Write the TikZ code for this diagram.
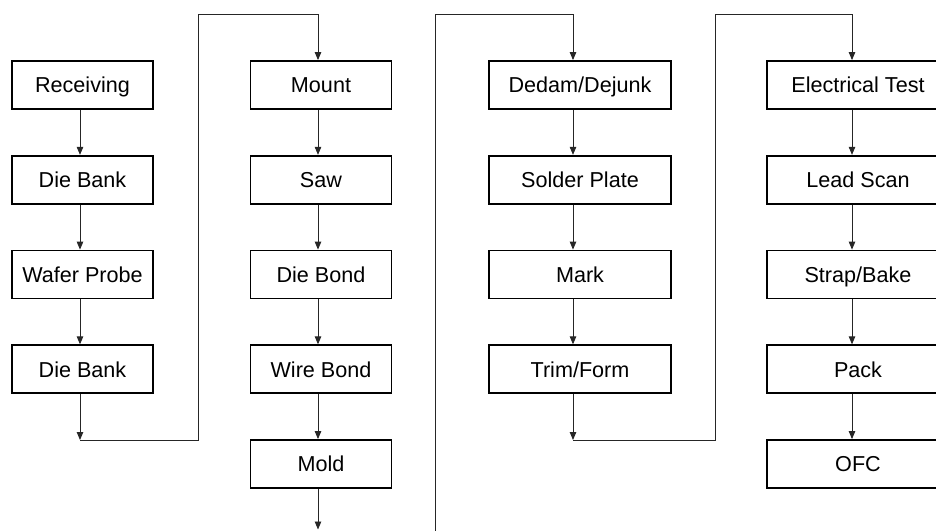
\documentclass[tikz,border=0pt]{standalone}
\usepackage{fontspec}
\setmainfont{Liberation Sans}
\usetikzlibrary{arrows.meta}
\begin{document}
\begin{tikzpicture}[x=1pt,y=-1pt,
  stage/.style={draw, line width=1.8pt, minimum height=48pt, inner sep=0pt,
                text height=15.5pt, text depth=0pt,
                font=\fontsize{21.6}{24}\selectfont},
  narrow/.style={stage, minimum width=141pt},
  wide/.style={stage, minimum width=182pt},
  flow/.style={line width=0.9pt, black!85},
  arr/.style={flow, -{Triangle[length=8pt,width=6.5pt]}}]
\useasboundingbox (0,0) rectangle (936,530);
\clip (0,0) rectangle (936,530);

% process stages, column by column
\node[narrow] (a1) at (82.5,85)     {Receiving};
\node[narrow] (a2) at (82.5,179.75) {Die Bank};
\node[narrow] (a3) at (82.5,274.5)  {Wafer Probe};
\node[narrow] (a4) at (82.5,369.25) {Die Bank};

\node[narrow] (b1) at (321,85)     {Mount};
\node[narrow] (b2) at (321,179.75) {Saw};
\node[narrow] (b3) at (321,274.5)  {Die Bond};
\node[narrow] (b4) at (321,369.25) {Wire Bond};
\node[narrow] (b5) at (321,464)    {Mold};

\node[wide] (c1) at (580,85)     {Dedam/Dejunk};
\node[wide] (c2) at (580,179.75) {Solder Plate};
\node[wide] (c3) at (580,274.5)  {Mark};
\node[wide] (c4) at (580,369.25) {Trim/Form};

\node[wide] (d1) at (858,85)     {Electrical Test};
\node[wide] (d2) at (858,179.75) {Lead Scan};
\node[wide] (d3) at (858,274.5)  {Strap/Bake};
\node[wide] (d4) at (858,369.25) {Pack};
\node[wide] (d5) at (858,464)    {OFC};

% x positions of the flow lines in each column
\coordinate (x1) at (80,0);
\coordinate (x2) at (318,0);
\coordinate (x3) at (573,0);
\coordinate (x4) at (852,0);

% arrows within the columns
\foreach \p/\q in {a1/a2,a2/a3,a3/a4}
  \draw[arr] (\p.south -| x1) -- (\q.north -| x1);
\foreach \p/\q in {b1/b2,b2/b3,b3/b4,b4/b5}
  \draw[arr] (\p.south -| x2) -- (\q.north -| x2);
\foreach \p/\q in {c1/c2,c2/c3,c3/c4}
  \draw[arr] (\p.south -| x3) -- (\q.north -| x3);
\foreach \p/\q in {d1/d2,d2/d3,d3/d4,d4/d5}
  \draw[arr] (\p.south -| x4) -- (\q.north -| x4);

% first column into the second
\coordinate (j1) at (80,440);
\coordinate (u1) at (198,440);
\coordinate (v1) at (198,14);
\coordinate (k1) at (318,14);
\draw[arr] (a4.south -| x1) -- (j1);
\draw[flow] (j1) -- (u1) -- (v1) -- (k1);
\draw[arr] (k1) -- (b1.north -| x2);

% second column runs off the bottom, third column comes in from it
\coordinate (e2) at (318,529.5);
\draw[arr] (b5.south -| x2) -- (e2);
\coordinate (s3) at (435.5,531);
\coordinate (v3) at (435.5,14);
\coordinate (k3) at (573,14);
\draw[flow] (s3) -- (v3) -- (k3);
\draw[arr] (k3) -- (c1.north -| x3);

% third column into the fourth
\coordinate (j3) at (573,440);
\coordinate (u3) at (715,440);
\coordinate (v4) at (715,14);
\coordinate (k4) at (852,14);
\draw[arr] (c4.south -| x3) -- (j3);
\draw[flow] (j3) -- (u3) -- (v4) -- (k4);
\draw[arr] (k4) -- (d1.north -| x4);
\end{tikzpicture}
\end{document}
